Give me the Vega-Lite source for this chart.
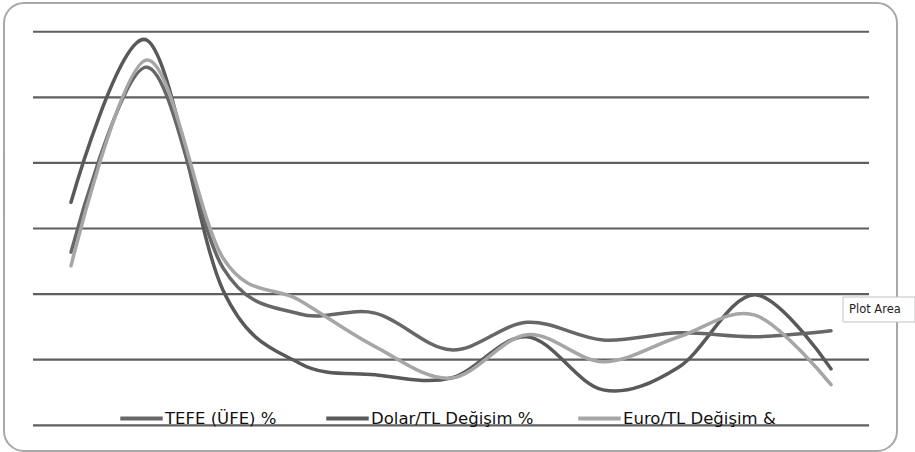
{
  "$schema": "https://vega.github.io/schema/vega-lite/v6.json",
  "width": 893,
  "height": 448,
  "autosize": "none",
  "padding": {"left": 4, "top": 3, "right": 18, "bottom": 1},
  "background": "white",
  "config": {
    "view": {"stroke": "#a8a8a8", "strokeWidth": 2, "cornerRadius": 20, "fill": "white"},
    "font": "DejaVu Sans"
  },
  "data": {
    "values": [
      {"t": 1, "series": "Dolar/TL Değişim %", "v": 34.0},
      {"t": 2, "series": "Dolar/TL Değişim %", "v": 58.7},
      {"t": 3, "series": "Dolar/TL Değişim %", "v": 20.6},
      {"t": 4, "series": "Dolar/TL Değişim %", "v": 9.5},
      {"t": 5, "series": "Dolar/TL Değişim %", "v": 7.7},
      {"t": 6, "series": "Dolar/TL Değişim %", "v": 7.2},
      {"t": 7, "series": "Dolar/TL Değişim %", "v": 13.5},
      {"t": 8, "series": "Dolar/TL Değişim %", "v": 5.4},
      {"t": 9, "series": "Dolar/TL Değişim %", "v": 8.9},
      {"t": 10, "series": "Dolar/TL Değişim %", "v": 19.9},
      {"t": 11, "series": "Dolar/TL Değişim %", "v": 8.6},
      {"t": 1, "series": "TEFE  (ÜFE) %", "v": 26.4},
      {"t": 2, "series": "TEFE  (ÜFE) %", "v": 54.6},
      {"t": 3, "series": "TEFE  (ÜFE) %", "v": 24.0},
      {"t": 4, "series": "TEFE  (ÜFE) %", "v": 17.0},
      {"t": 5, "series": "TEFE  (ÜFE) %", "v": 17.1},
      {"t": 6, "series": "TEFE  (ÜFE) %", "v": 11.5},
      {"t": 7, "series": "TEFE  (ÜFE) %", "v": 15.7},
      {"t": 8, "series": "TEFE  (ÜFE) %", "v": 13.0},
      {"t": 9, "series": "TEFE  (ÜFE) %", "v": 14.1},
      {"t": 10, "series": "TEFE  (ÜFE) %", "v": 13.5},
      {"t": 11, "series": "TEFE  (ÜFE) %", "v": 14.4},
      {"t": 1, "series": "Euro/TL Değişim &", "v": 24.3},
      {"t": 2, "series": "Euro/TL Değişim &", "v": 55.7},
      {"t": 3, "series": "Euro/TL Değişim &", "v": 25.5},
      {"t": 4, "series": "Euro/TL Değişim &", "v": 19.1},
      {"t": 5, "series": "Euro/TL Değişim &", "v": 12.0},
      {"t": 6, "series": "Euro/TL Değişim &", "v": 7.2},
      {"t": 7, "series": "Euro/TL Değişim &", "v": 13.8},
      {"t": 8, "series": "Euro/TL Değişim &", "v": 9.7},
      {"t": 9, "series": "Euro/TL Değişim &", "v": 13.5},
      {"t": 10, "series": "Euro/TL Değişim &", "v": 16.8},
      {"t": 11, "series": "Euro/TL Değişim &", "v": 6.2}
    ]
  },
  "layer": [
    {
      "data": {"values": [{"g": 0}, {"g": 10}, {"g": 20}, {"g": 30}, {"g": 40}, {"g": 50}, {"g": 60}]},
      "mark": {"type": "rule", "color": "#5f5f5f", "strokeWidth": 2.2},
      "encoding": {
        "y": {"field": "g", "type": "quantitative", "axis": null,
              "scale": {"domain": [-3.92, 64.38], "nice": false, "zero": false}},
        "x": {"datum": 0.5, "type": "quantitative", "axis": null,
              "scale": {"domain": [0.1184, 11.868], "nice": false, "zero": false}},
        "x2": {"datum": 11.5}
      }
    },
    {
      "mark": {"type": "line", "interpolate": "cardinal", "strokeWidth": 3.5, "strokeCap": "round"},
      "encoding": {
        "x": {"field": "t", "type": "quantitative", "axis": null},
        "y": {"field": "v", "type": "quantitative", "axis": null},
        "color": {
          "field": "series", "type": "nominal",
          "scale": {
            "domain": ["TEFE  (ÜFE) %", "Dolar/TL Değişim %", "Euro/TL Değişim &"],
            "range": ["#676767", "#595959", "#a6a6a6"]
          },
          "legend": {
            "title": null,
            "orient": "none",
            "direction": "horizontal",
            "legendX": 114,
            "legendY": 392,
            "symbolType": "stroke",
            "symbolSize": 1800,
            "symbolStrokeWidth": 4,
            "labelFont": "DejaVu Sans",
            "labelFontSize": 16.5,
            "labelColor": "#111111",
            "labelOffset": 0,
            "labelLimit": 400,
            "columnPadding": 36
          }
        }
      }
    },
    {
      "data": {"values": [{}]},
      "mark": {"type": "rect", "fill": "white", "stroke": "#c4c4c4", "strokeWidth": 1},
      "encoding": {
        "x": {"datum": 11.158, "type": "quantitative", "axis": null},
        "x2": {"datum": 12.105},
        "y": {"datum": 19.56, "type": "quantitative", "axis": null},
        "y2": {"datum": 15.75}
      }
    },
    {
      "data": {"values": [{}]},
      "mark": {"type": "text", "text": "Plot Area", "align": "left", "baseline": "middle", "font": "DejaVu Sans", "fontSize": 11.5, "color": "#222222"},
      "encoding": {
        "x": {"datum": 11.237, "type": "quantitative", "axis": null},
        "y": {"datum": 17.58, "type": "quantitative", "axis": null}
      }
    }
  ]
}
